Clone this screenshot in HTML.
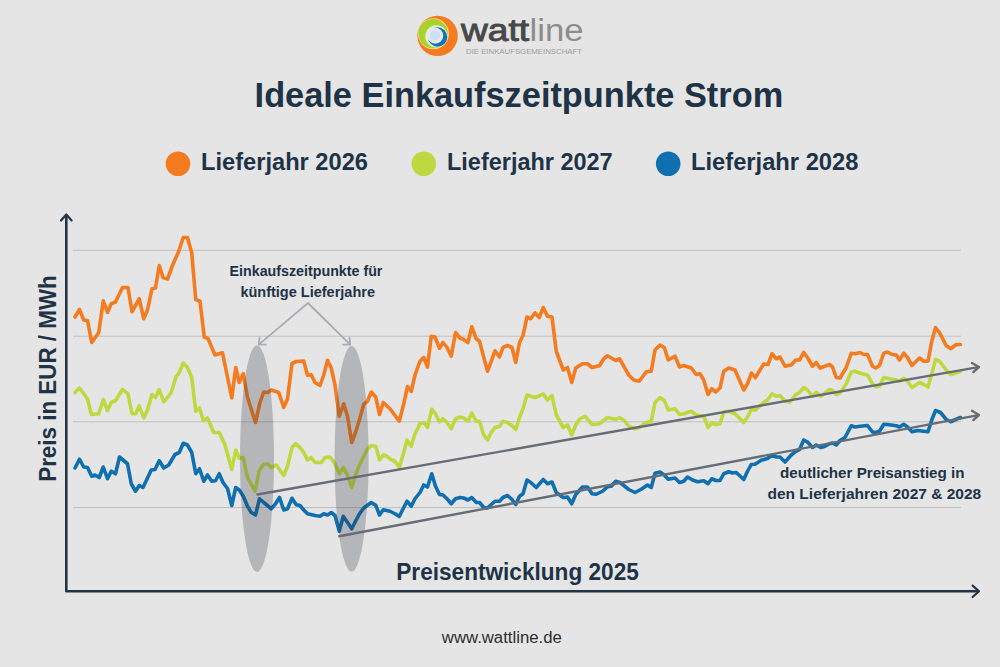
<!DOCTYPE html>
<html><head><meta charset="utf-8"><title>Ideale Einkaufszeitpunkte Strom</title>
<style>
html,body{margin:0;padding:0;background:#e5e5e5;}
body{width:1000px;height:667px;overflow:hidden;font-family:"Liberation Sans",sans-serif;}
svg{display:block;opacity:0.999}
text{font-family:"Liberation Sans",sans-serif;}
.b{font-weight:bold;fill:#203346;}
</style></head><body>
<svg width="1000" height="667" viewBox="0 0 1000 667">
<rect width="1000" height="667" fill="#e5e5e5"/>

<!-- logo -->
<g>
<circle cx="437.6" cy="35.85" r="20.2" fill="#f47b20"/>
<circle cx="433.4" cy="33.8" r="15.5" fill="#f7dc86"/>
<circle cx="433.1" cy="33.6" r="14.7" fill="#aad22e"/>
<circle cx="436.4" cy="36.4" r="11.1" fill="#e4f0d4"/>
<circle cx="437.6" cy="37" r="9.7" fill="#1273b5"/>
<circle cx="435.2" cy="35.7" r="8" fill="#e6e9f2"/>
<circle cx="435" cy="35.5" r="5.4" fill="#d0e0f4"/>
<text x="461" y="41" font-size="31" fill="#484848" stroke="#484848" stroke-width="0.9" textLength="68" lengthAdjust="spacingAndGlyphs">watt</text>
<text x="529.5" y="41" font-size="31" fill="#8c8c8c" textLength="54" lengthAdjust="spacingAndGlyphs">line</text>
<text x="466" y="53.7" font-size="7.6" fill="#9a9a9a" textLength="116" lengthAdjust="spacingAndGlyphs">DIE EINKAUFSGEMEINSCHAFT</text>
</g>

<!-- title -->
<text class="b" x="254.6" y="106.6" font-size="35" textLength="528.6" lengthAdjust="spacingAndGlyphs">Ideale Einkaufszeitpunkte Strom</text>

<!-- legend -->
<circle cx="178" cy="163.7" r="12.3" fill="#f47b20"/>
<text class="b" x="201" y="169.8" font-size="23" textLength="167" lengthAdjust="spacingAndGlyphs">Lieferjahr 2026</text>
<circle cx="423.8" cy="163.7" r="12.3" fill="#bed940"/>
<text class="b" x="447" y="169.8" font-size="23" textLength="165.6" lengthAdjust="spacingAndGlyphs">Lieferjahr 2027</text>
<circle cx="668.2" cy="163.7" r="12.3" fill="#0f6fb0"/>
<text class="b" x="691" y="169.8" font-size="23" textLength="167.4" lengthAdjust="spacingAndGlyphs">Lieferjahr 2028</text>

<!-- gridlines -->
<g stroke="#bfbfbf" stroke-width="1">
<line x1="73" y1="250.3" x2="961" y2="250.3"/>
<line x1="73" y1="336.2" x2="961" y2="336.2"/>
<line x1="73" y1="421.8" x2="961" y2="421.8"/>
<line x1="73" y1="507.5" x2="961" y2="507.5"/>
</g>

<!-- axes -->
<g stroke="#223547" stroke-width="2.6" fill="none" stroke-linecap="round" stroke-linejoin="round">
<polyline points="66.3,216 66.3,591.3 978,591.3"/>
<polyline points="61,220.5 66.3,214.5 71.6,220.5" stroke-width="2.2"/>
<polyline points="972.6,585.6 979,591.3 972.6,597" stroke-width="2.2"/>
</g>

<!-- y label -->
<text class="b" transform="translate(56,481.8) rotate(-90)" font-size="24" textLength="206.5" lengthAdjust="spacingAndGlyphs">Preis in EUR / MWh</text>

<!-- series -->
<g fill="none" stroke-width="3.6" stroke-linejoin="round" stroke-linecap="round">
<polyline stroke="#f47b20" points="75,317 79.5,309.5 83.75,320 87.5,320.5 91.75,342.5 98.75,332.5 103.25,300.75 107.5,312.5 111.25,303.75 115.5,302 122.5,287.5 128,287.5 132,311.75 139.25,298.75 143.75,318.75 147.5,310 152,288.75 155.5,288 159.25,265.5 163,277.5 167.5,279 172.5,265.5 178.75,251.25 183.25,237.5 187.5,237.5 191.75,253 195.75,299.5 200,301.25 204.25,337 208,338.5 215,355 222.5,352.75 231.75,398 235.75,367.5 239.25,382.5 243.25,373.75 247.5,397.5 255.5,422.5 260,402.5 263.75,392 267.5,392.5 271.25,390 278.75,392.5 283.75,407.5 287.5,398.75 292,363.5 296.25,361.5 303.75,361 307.5,375.25 311.25,374.75 315,382.5 320,385.5 323.75,375 327.5,360.25 331.25,368 335,385 339.25,416.25 343.75,403.75 347.5,416.25 351.75,442.5 355.5,432.5 359.5,419.5 363.75,404.25 367.5,401.25 371.25,392 375.75,397 379.5,414.5 383.25,402.5 390,408.75 399.25,421.25 403.75,403.75 407.5,386.5 411.25,391.5 415,375 420,361.25 423.75,357.5 427.5,367 431.25,336.25 435,337 439.5,348.25 443,342.5 447,347.5 451.25,356.25 455.5,332.5 460,338 463.75,339.5 468,342.5 471.75,326.75 476.25,338.75 479.5,341.25 487.5,371.25 491.25,361.25 495,350.75 499.5,357 503,347.5 507.5,345.5 512,347.5 515.75,362.5 519.5,342.5 523,335.5 527,317 530.75,318.75 535,313 539.25,317.5 543.25,307.5 547.5,316.25 552,317 556.25,351.25 563.25,370 567.5,367.5 571.75,382.5 575.75,368 582.5,363.75 587.5,363.75 592,367.5 599.5,365.75 603.75,358.75 607.5,355.75 615.75,360.5 619.5,358.75 628.75,375 633.75,380 639.25,381.25 646.25,371.75 651.25,371.25 655,350 660,345 664.25,347.5 668.25,360 675,356.25 679.5,367 683.75,365.5 691.25,368 696.25,374.5 700,373.75 703.75,380 708,394.5 711.75,388.75 715.75,392 720,388 723.75,371.25 728.75,368 735,370 743.75,390 747.5,383.75 751.5,373 755.25,377.75 763.75,364 768,364.5 772,353.75 776.25,358.75 780,357 785,366.25 791.25,365 795.75,360 799.5,360 803.75,352.5 807.5,357.5 812.5,366.25 816.25,362.5 820,368 829.5,364.5 832.5,367 836.25,377.5 840,378 846.25,367.5 851.25,353.25 855,353.75 860,352.5 863.75,354.5 867.5,354.5 872.5,366.25 875.75,368 879.5,365.5 883.75,353.25 887.5,352 892,354.5 896.25,355 899.5,360 903.75,353.25 907.5,357.5 912,365.5 919.5,358 923.75,361.25 928,361.25 931.75,341.25 935.5,327.5 939.5,332.5 946.25,345.75 950.75,348.75 956.25,344.5 960.5,344.5"/>
<polyline stroke="#bed940" points="75,392.5 79.5,388 87.5,398.75 91.25,414.5 98.75,413.75 103.25,399.5 107.5,410.5 111.25,402.5 115.5,400.5 122.5,389.5 128,393.75 132,413.75 135.75,413.75 139.25,405.75 143.75,418 147.5,410 152,394.5 155.5,397.5 159.25,389.5 163.75,402 171.25,392.5 176.25,376.25 178.75,373.75 183.25,363 187.5,367.5 191.75,377.5 195.75,411.25 199.5,408 203.25,420.5 207.5,418 213.75,432.5 219.25,432.5 225,445 231.75,469.5 235.75,450 239.25,458.25 243.25,457.5 247.5,477.5 255,491.25 259.5,470 263.75,464.25 267.5,463.75 271.25,467.5 276.25,465 283.75,475.5 287.5,466.25 292,447.5 295.5,443.75 300,447.5 303.75,452.5 307.5,460 311.25,457.5 315,462.5 321.25,462.5 325,457.5 330,457 335,463.75 339.25,473.75 343.25,467.5 347.5,475 351.75,487.5 355.5,475 359.5,465 363.75,456.25 367.5,448.75 371.25,445.75 375.75,446.25 379.5,460 383.25,455 387,456.25 390.75,459.5 395,461.25 399.25,467.5 403.75,452.5 407,440 411.25,446.25 415,433.75 420,423.75 423.75,422.5 427.5,427.5 431.75,409.25 435.5,413.75 439.5,421.75 443,418.75 447,422.5 451.25,428.75 455.5,418.75 460,417 463.75,418 468,421.25 471.75,413 476.25,421.25 479.5,421.25 483.75,435 487.5,440 491.25,432.5 495,427.5 499.5,426.25 503,421.25 507.5,422.5 512,425.75 515.75,429.5 519.5,417.5 523,408.75 527,395 530.75,396.25 535,397.5 539.25,396 543.25,393.75 547.5,400 552,395.5 556.25,415 563.25,427.5 567.5,425 571.75,435 575.75,425 580,418.75 585,416.25 592,424.5 599.5,423.75 607.5,417.5 615.75,419.5 619.5,417.5 623.75,420 628.75,426.25 635,428.75 639.25,427.5 646.25,422.5 651.25,421.25 655,402.5 660,397.5 664.25,400.5 668.25,410 675,408.75 679.5,414.5 683.75,413.75 691.25,411.25 696.25,415 703.75,416.25 708,427.5 711.75,423 715.75,424.5 720,423.75 723.75,412 728.75,411.25 735,413.75 743.75,422.5 747.5,417 751.5,409 755.25,410.25 763.75,402.25 767.5,400 772,393.75 776.25,396.25 780,395.5 785,401.25 790,402 795.75,394.5 799.5,392.5 803.75,387.5 807.5,390 812.5,396.25 816.25,392.5 820.75,396.25 829.5,389.5 832.5,390.5 836.25,394.5 840,393 846.25,383.75 851.25,372 855,371.25 860,373.25 867.5,375 872.5,383.75 875.75,387 879.5,386.25 883.75,377.5 887.5,378.25 896.25,380 899.5,381.25 903.75,378.25 907.5,381.25 912,387.5 919.5,382.5 923.75,384.5 928,387 931.75,373.75 935.5,359.5 939.5,361.25 946.25,370 950.75,374.5 956.25,373 960.5,371.25"/>
<polyline stroke="#0f6fb0" points="75,468 79.5,459.25 83.75,467 87.5,467.5 91.75,476.25 95,475 99.25,477.5 103.25,467 107.5,478.75 111.25,471.25 115.5,473.75 119.5,457 127.5,463.75 131.25,483.75 135.5,491.25 139.25,485.5 143,487.5 151.25,470 155,469.5 159.25,460.75 163.75,468 168.75,465 175,454.5 179.25,452.5 183.25,443.25 187.5,445 191.75,452.5 195.75,473.75 199.5,468.75 203.75,481.25 207.5,475 211.75,481.25 215.5,480.75 219.25,473.75 223,482.5 227.5,488.5 231.75,505.5 235.75,487.5 239.25,490 243.25,496.25 247.5,506.25 251.25,512.5 255.5,515 259.5,498.75 263.75,502.5 271.25,508.75 275,504.5 279.5,497.5 283.75,510 287.5,508.75 292,498.25 296.25,504.75 300,505.5 303.75,510 307.5,513.75 315,515.5 320,516.25 323.75,513.75 327.5,515 331.25,512.5 335,515.5 339.25,531.25 343.25,516.25 347.5,522.5 351.75,528.75 355.5,521.25 359.5,513.75 363.75,508 371.25,502.5 375.75,505.25 379.5,515 383.25,509.75 390,511.25 395,513.75 399.25,516.5 403.75,507.5 407,501.25 411.25,506.25 415,498.75 420,492.5 423.75,485 427.5,487 431.75,473.75 435.5,486.25 439.5,494.5 443,495 447,498.75 451.25,503.75 455.5,498.75 460,497.5 463.75,498 468,500 471.75,497.5 476.25,502.5 479.5,502.5 483.75,507.5 487.5,508 491.25,504.5 495,501.25 499.5,501.25 503,497.5 507.5,495.5 512,499.5 515.75,504.5 519.5,496.25 523,493.75 527,480 530.75,482.5 536.25,487.5 543.25,479.5 547.5,483.75 552,482 556.25,492.5 563.25,497.5 567.5,497 571.75,503.75 575.75,494.5 582.5,487 587.5,487 592,493.75 596.25,494.25 602.5,491.25 607.5,486.75 611.25,486.25 615.75,481.25 620,482.5 628.75,489.5 635,492.5 641.25,489.25 647.5,485 651.25,487.5 655,473.25 660,472 664.25,475 668.25,479.25 675,478 679.5,482.5 683.75,481.25 687.5,477 692.5,480 697.5,481.75 703.75,480.75 708,483.75 711.75,478.75 715.75,480.5 720,480.5 723.75,473.75 728.75,471.75 732.5,473 736.25,472.5 743.75,479.5 747.5,471.25 751.25,464.5 755,464.25 761.25,460.25 767.5,458.5 772,455 776.25,457 780,457 785,462 791.25,455 795.75,451.25 799.5,449.5 803.75,440 807.5,442 812.5,447.5 816.25,445 820.75,447.5 825,446.25 829.5,443.75 832.5,443 836.25,445 840,440.5 845,437.5 851.25,425.75 855,427 860,426.25 867.5,425.5 872.5,432 875.75,432.5 879.5,431.25 883.75,424.25 887.5,424.5 896.25,425.75 899.5,427 903.75,424.25 907.5,427 912,431.75 917.5,430.5 923.75,431.25 928,431.75 931.75,420 935.5,410.5 940.5,412.5 946.25,419.5 950.75,421.75 956.25,419.25 960.5,417.5"/>
</g>

<!-- ellipses -->
<ellipse cx="257" cy="458.6" rx="17" ry="113.4" fill="#2a3442" fill-opacity="0.26"/>
<ellipse cx="351.6" cy="458.8" rx="17" ry="112.8" fill="#2a3442" fill-opacity="0.26"/>

<!-- trend arrows -->
<g stroke="#676d76" stroke-width="2.4" fill="none" stroke-linecap="round" stroke-linejoin="round">
<line x1="257.5" y1="494.5" x2="978.4" y2="367.1"/>
<polyline points="972,363 979,367 973.3,372.2"/>
<line x1="339.3" y1="536.3" x2="978.4" y2="415.1"/>
<polyline points="972,410.8 979,415 973.3,420.2"/>
</g>

<!-- annotation arrows -->
<g stroke="#a9adb2" stroke-width="1.8" fill="none" stroke-linecap="round" stroke-linejoin="round">
<polyline points="259,344.4 308,303 350,344.4"/>
<polyline points="259.5,337.6 258.8,344.6 265.8,344.6"/>
<polyline points="349.5,337.6 350.2,344.6 343.2,344.6"/>
</g>
<text class="b" x="229.6" y="276.2" font-size="14" textLength="152.8" lengthAdjust="spacingAndGlyphs">Einkaufszeitpunkte für</text>
<text class="b" x="240.4" y="296.5" font-size="14" textLength="134.6" lengthAdjust="spacingAndGlyphs">künftige Lieferjahre</text>

<text class="b" x="780" y="477.6" font-size="14" textLength="184.5" lengthAdjust="spacingAndGlyphs">deutlicher Preisanstieg in</text>
<text class="b" x="767.5" y="499.2" font-size="14" textLength="213.7" lengthAdjust="spacingAndGlyphs">den Lieferjahren 2027 &amp; 2028</text>

<text class="b" x="396.3" y="580.2" font-size="23.5" textLength="242.5" lengthAdjust="spacingAndGlyphs">Preisentwicklung 2025</text>

<text x="441.8" y="642.6" font-size="16" fill="#2e2e2e" textLength="120" lengthAdjust="spacingAndGlyphs">www.wattline.de</text>
</svg>
</body></html>
